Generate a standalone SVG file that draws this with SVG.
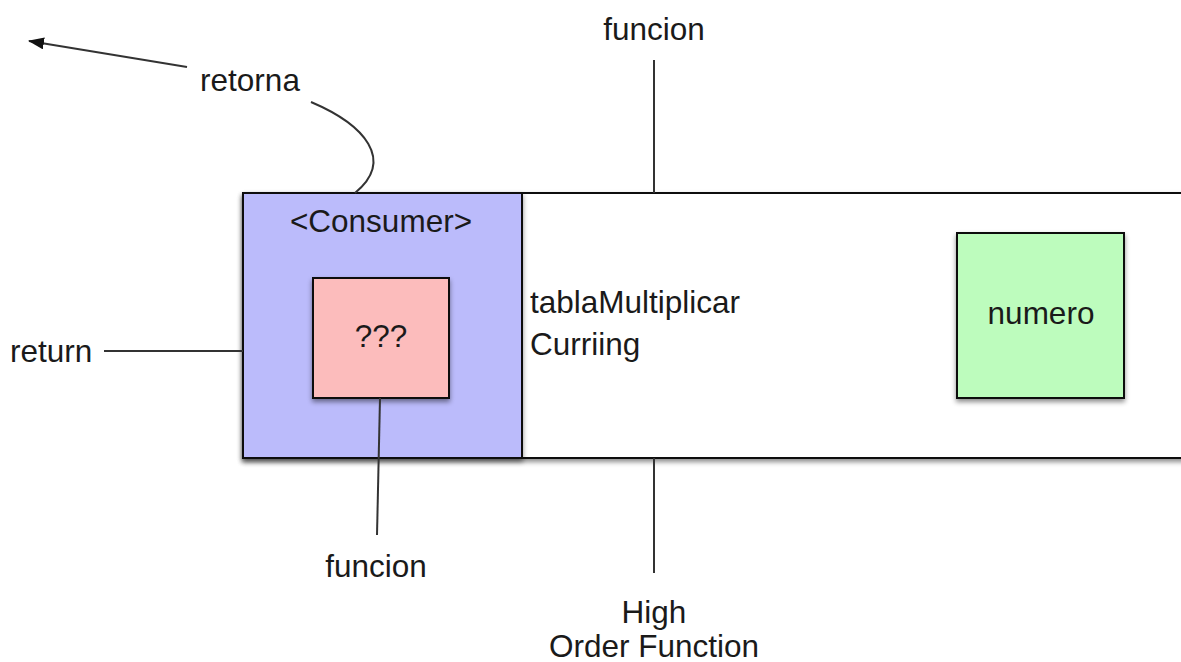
<svg xmlns="http://www.w3.org/2000/svg" width="1181" height="662" viewBox="0 0 1181 662">
  <defs>
    <filter id="shadow" x="-10%" y="-10%" width="120%" height="130%">
      <feDropShadow dx="0" dy="3" stdDeviation="2.5" flood-color="#000" flood-opacity="0.45"/>
    </filter>
    <marker id="arrow" viewBox="0 0 16 12" refX="15" refY="6" markerWidth="16" markerHeight="12" markerUnits="userSpaceOnUse" orient="auto">
      <path d="M0,0 L16,6 L0,12 Z" fill="#111"/>
    </marker>
  </defs>
  <style>
    text { font-family: "Liberation Sans", Arial, sans-serif; font-size: 31.5px; fill: #1a1a1a; }
    .box { stroke: #111; stroke-width: 2; filter: url(#shadow); }
    .conn { stroke: #333; stroke-width: 2; fill: none; }
    .mid { text-anchor: middle; }
  </style>
  <rect width="1181" height="662" fill="#fff"/>

  <!-- outer higher-order function -->
  <g id="hof">
    <rect class="box" x="243" y="193" width="950" height="265" fill="#ffffff"/>
    <text x="530" y="313">tablaMultiplicar</text>
    <text x="530" y="355">Curriing</text>
  </g>

  <!-- returned consumer -->
  <g id="consumer">
    <rect class="box" x="243" y="193" width="279" height="265" fill="#bbbbfb"/>
    <text class="mid" x="381" y="232">&lt;Consumer&gt;</text>
  </g>

  <g id="unknown">
    <rect class="box" x="313" y="278" width="136" height="120" fill="#fcbcbc"/>
    <text class="mid" x="381" y="347">???</text>
  </g>

  <g id="numero">
    <rect class="box" x="957" y="233" width="167" height="165" fill="#bdfcbd"/>
    <text class="mid" x="1041" y="324">numero</text>
  </g>

  <g id="connectors">
    <line class="conn" x1="654" y1="60" x2="654" y2="193"/>
    <line class="conn" x1="654" y1="458" x2="654" y2="573"/>
    <line class="conn" x1="104" y1="351" x2="243" y2="351"/>
    <line class="conn" x1="380" y1="398" x2="377" y2="535"/>
    <path class="conn" d="M311,102 C365,125 395,160 355,193"/>
    <line class="conn" x1="187" y1="67" x2="29" y2="41" marker-end="url(#arrow)"/>
  </g>

  <g id="labels">
    <text class="mid" x="654" y="40">funcion</text>
    <text class="mid" x="250" y="91">retorna</text>
    <text x="10" y="362">return</text>
    <text class="mid" x="376" y="577">funcion</text>
    <text class="mid" x="654" y="623">High</text>
    <text class="mid" x="654" y="657">Order Function</text>
  </g>
</svg>
